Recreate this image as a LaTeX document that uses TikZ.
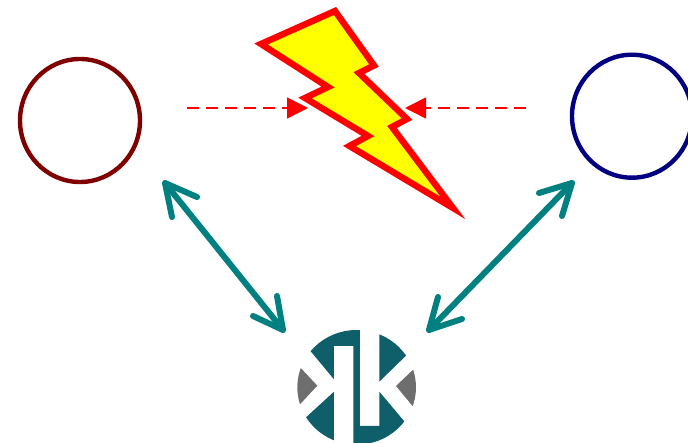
\documentclass[tikz,border=0pt]{standalone}
\usetikzlibrary{arrows.meta,shapes.geometric}
\definecolor{logoteal}{HTML}{0F5F6B}
\definecolor{logogrey}{HTML}{6E6E6E}
\definecolor{linkteal}{HTML}{008080}
\definecolor{ringred}{HTML}{800000}
\definecolor{ringblue}{HTML}{000080}
\definecolor{boltfill}{HTML}{FFFF00}
\definecolor{purered}{HTML}{FF0000}
\tikzset{
  ring/.style={ellipse,draw=#1,line width=4.4pt,minimum width=120pt,minimum height=123pt,inner sep=0pt,fill=white},
  link/.style={draw=linkteal,line width=6pt,line cap=round,line join=round},
  beam/.style={draw=purered,line width=1.5pt,dash pattern=on 12pt off 7pt,
    -{Triangle[length=21pt,width=21pt,fill=purered]}},
  bolt/.style={draw=purered,fill=boltfill,line width=6.4pt,miter limit=20,line join=miter}
}
\begin{document}
\begin{tikzpicture}[x=1pt,y=-1pt]
\useasboundingbox (0,0) rectangle (688,443);
\fill[white] (0,0) rectangle (688,443);
\node[ring=ringred] (left) at (80,120.5) {};
\node[ring=ringblue] (right) at (632,116.2) {};
\draw[bolt] (335,11) -- (261,44) -- (328,87) -- (305,98) -- (368,136) -- (349.5,146) -- (453,208) -- (392,127) -- (407,119) -- (359,73) -- (374,65.5) -- cycle;
\coordinate (beamLs) at (187,108);
\coordinate (beamLe) at (308,108);
\coordinate (beamRs) at (526,108);
\coordinate (beamRe) at (405,108);
\draw[beam] (beamLs) -- (beamLe);
\draw[beam] (beamRs) -- (beamRe);
\coordinate (linkLa) at (165,183);
\coordinate (linkLb) at (283,330);
\coordinate (linkRa) at (572,183);
\coordinate (linkRb) at (429,330);
\draw[link] (linkLa) -- (linkLb);
\draw[link] (linkRa) -- (linkRb);
\draw[link] (197,197) -- (linkLa) -- (172,217);
\draw[link] (253,316) -- (linkLb) -- (277,296);
\draw[link] (539,193) -- (linkRa) -- (562,216);
\draw[link] (438,297) -- (linkRb) -- (462,319);
\begin{scope}[shift={(280,320)},x=0.3333pt,y=-0.3333pt]
\clip (230,202) ellipse [x radius=178,y radius=172];
\fill[logoteal] (60,55) -- (93,95) -- (162,178) -- (162,78) -- (220,78) -- (220,420) -- (420,420) -- (420,360) -- (298,215) -- (298,318) -- (240,318) -- (240,0) -- (60,0) -- cycle;
\fill[logoteal] (298,0) -- (298,185) -- (420,66) -- (420,0) -- cycle;
\fill[logoteal] (162,215) -- (40,327) -- (40,420) -- (162,420) -- cycle;
\fill[logogrey] (30,110) -- (112,197) -- (30,285) -- cycle;
\fill[logogrey] (430,120) -- (348,198) -- (430,297) -- cycle;
\end{scope}
\end{tikzpicture}
\end{document}
